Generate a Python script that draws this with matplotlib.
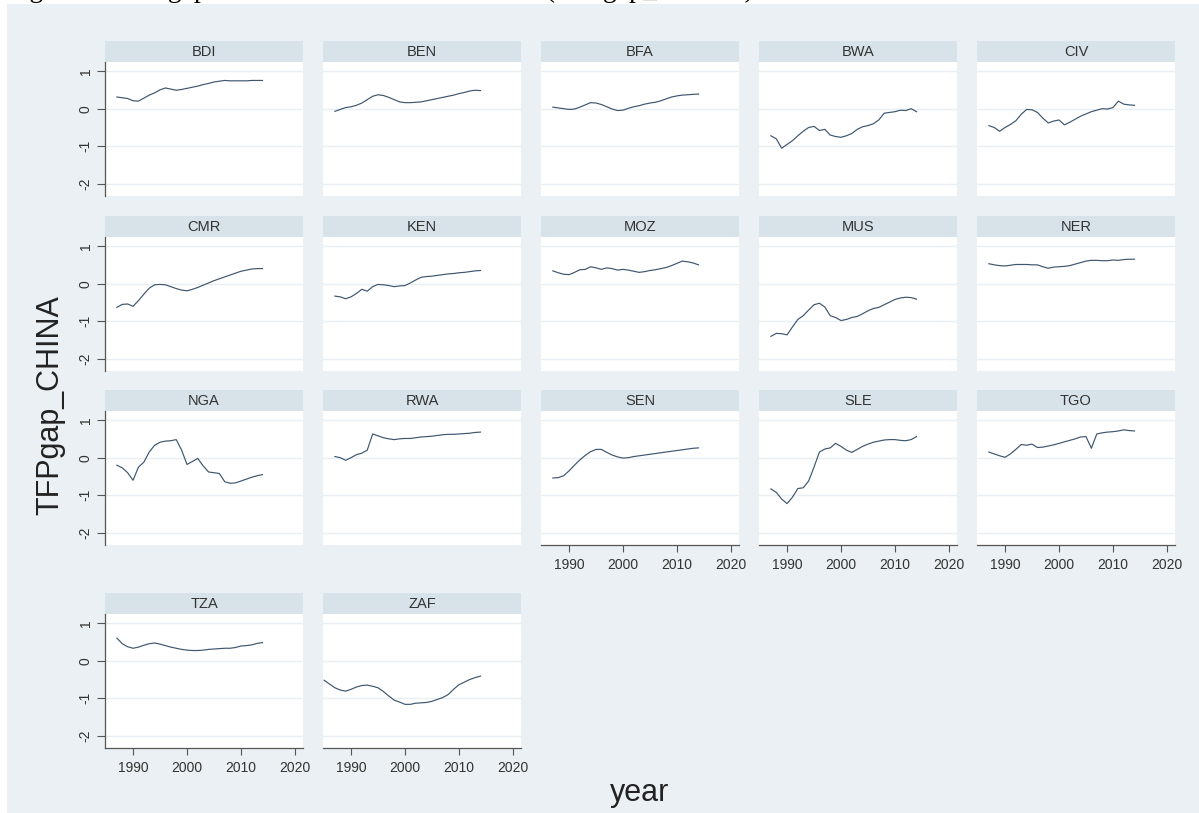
import matplotlib
matplotlib.use('Agg')
import matplotlib.pyplot as plt

# panel order (Stata by-graph, 5 columns)
countries = ['BDI', 'BEN', 'BFA', 'BWA', 'CIV',
             'CMR', 'KEN', 'MOZ', 'MUS', 'NER',
             'NGA', 'RWA', 'SEN', 'SLE', 'TGO',
             'TZA', 'ZAF']

years = list(range(1987, 2015))
years_zaf = list(range(1985, 2015))

# TFPgap_CHINA values
bdi = [0.31, 0.29, 0.27, 0.21, 0.20, 0.28, 0.36, 0.42, 0.50, 0.55, 0.52, 0.49, 0.51, 0.54,
       0.57, 0.60, 0.64, 0.67, 0.71, 0.73, 0.75, 0.74, 0.74, 0.74, 0.74, 0.75, 0.75, 0.75]
ben = [-0.07, -0.02, 0.03, 0.05, 0.09, 0.15, 0.24, 0.33, 0.37, 0.35, 0.30, 0.24, 0.18, 0.16,
       0.16, 0.17, 0.18, 0.21, 0.24, 0.27, 0.30, 0.33, 0.36, 0.40, 0.43, 0.47, 0.49, 0.48]
bfa = [0.04, 0.02, 0.00, -0.02, -0.01, 0.04, 0.10, 0.16, 0.15, 0.11, 0.05, -0.01, -0.05, -0.04,
       0.01, 0.05, 0.08, 0.12, 0.15, 0.17, 0.21, 0.26, 0.31, 0.34, 0.36, 0.37, 0.38, 0.39]
bwa = [-0.72, -0.80, -1.05, -0.95, -0.85, -0.72, -0.60, -0.50, -0.47, -0.58, -0.55, -0.70, -0.74, -0.76,
       -0.72, -0.66, -0.55, -0.48, -0.45, -0.40, -0.30, -0.12, -0.10, -0.08, -0.04, -0.05, 0.00, -0.08]
civ = [-0.45, -0.50, -0.60, -0.50, -0.42, -0.32, -0.15, -0.02, -0.03, -0.10, -0.25, -0.38, -0.33, -0.30,
       -0.43, -0.36, -0.28, -0.20, -0.14, -0.08, -0.04, 0.00, -0.01, 0.03, 0.20, 0.12, 0.10, 0.09]
cmr = [-0.63, -0.55, -0.54, -0.60, -0.45, -0.28, -0.12, -0.03, -0.02, -0.03, -0.08, -0.13, -0.17, -0.19,
       -0.15, -0.10, -0.04, 0.02, 0.08, 0.13, 0.18, 0.23, 0.28, 0.33, 0.36, 0.39, 0.40, 0.40]
ken = [-0.33, -0.35, -0.40, -0.35, -0.26, -0.15, -0.20, -0.08, -0.02, -0.03, -0.05, -0.08, -0.06, -0.05,
       0.02, 0.10, 0.17, 0.19, 0.20, 0.22, 0.24, 0.26, 0.27, 0.29, 0.30, 0.32, 0.34, 0.35]
moz = [0.34, 0.29, 0.25, 0.24, 0.30, 0.37, 0.38, 0.45, 0.42, 0.38, 0.42, 0.40, 0.36, 0.38,
       0.36, 0.33, 0.30, 0.32, 0.35, 0.37, 0.40, 0.43, 0.48, 0.54, 0.60, 0.58, 0.55, 0.50]
mus = [-1.40, -1.32, -1.33, -1.36, -1.15, -0.95, -0.85, -0.70, -0.56, -0.52, -0.62, -0.85, -0.90, -0.98,
       -0.95, -0.90, -0.87, -0.80, -0.72, -0.66, -0.63, -0.56, -0.49, -0.42, -0.38, -0.36, -0.37, -0.41]
ner = [0.53, 0.50, 0.48, 0.47, 0.49, 0.51, 0.51, 0.51, 0.50, 0.50, 0.45, 0.41, 0.44, 0.45,
       0.46, 0.48, 0.52, 0.56, 0.60, 0.62, 0.62, 0.61, 0.61, 0.63, 0.62, 0.64, 0.65, 0.65]
nga = [-0.20, -0.27, -0.40, -0.60, -0.25, -0.12, 0.15, 0.33, 0.41, 0.44, 0.45, 0.48, 0.20, -0.18,
       -0.10, -0.02, -0.22, -0.38, -0.40, -0.42, -0.64, -0.68, -0.67, -0.62, -0.57, -0.52, -0.48, -0.45]
rwa = [0.03, 0.00, -0.07, 0.00, 0.08, 0.12, 0.20, 0.63, 0.58, 0.53, 0.50, 0.48, 0.50, 0.51,
       0.51, 0.53, 0.55, 0.56, 0.57, 0.59, 0.61, 0.62, 0.62, 0.63, 0.64, 0.65, 0.67, 0.68]
sen = [-0.54, -0.53, -0.48, -0.35, -0.20, -0.06, 0.06, 0.16, 0.22, 0.22, 0.14, 0.07, 0.02, -0.01,
       0.00, 0.03, 0.05, 0.07, 0.09, 0.11, 0.13, 0.15, 0.17, 0.19, 0.21, 0.23, 0.25, 0.26]
sle = [-0.83, -0.92, -1.10, -1.22, -1.05, -0.82, -0.80, -0.62, -0.25, 0.15, 0.23, 0.26, 0.38, 0.30,
       0.20, 0.14, 0.22, 0.30, 0.36, 0.41, 0.44, 0.47, 0.48, 0.48, 0.46, 0.45, 0.48, 0.56]
tgo = [0.15, 0.10, 0.05, 0.01, 0.10, 0.22, 0.35, 0.33, 0.36, 0.27, 0.28, 0.31, 0.34, 0.38,
       0.42, 0.46, 0.50, 0.55, 0.56, 0.25, 0.63, 0.66, 0.68, 0.69, 0.71, 0.74, 0.72, 0.71]
tza = [0.60, 0.45, 0.37, 0.33, 0.36, 0.41, 0.45, 0.47, 0.44, 0.40, 0.36, 0.33, 0.30, 0.28,
       0.27, 0.27, 0.28, 0.30, 0.31, 0.32, 0.33, 0.33, 0.35, 0.39, 0.40, 0.42, 0.46, 0.48]
zaf = [-0.52, -0.62, -0.72, -0.78, -0.81, -0.76, -0.70, -0.66, -0.65, -0.68, -0.72, -0.82, -0.94, -1.05,
       -1.10, -1.16, -1.16, -1.13, -1.12, -1.11, -1.08, -1.03, -0.98, -0.90, -0.76, -0.64, -0.57, -0.50,
       -0.45, -0.41]

series = {'BDI': bdi, 'BEN': ben, 'BFA': bfa, 'BWA': bwa, 'CIV': civ,
          'CMR': cmr, 'KEN': ken, 'MOZ': moz, 'MUS': mus, 'NER': ner,
          'NGA': nga, 'RWA': rwa, 'SEN': sen, 'SLE': sle, 'TGO': tgo,
          'TZA': tza, 'ZAF': zaf}

ytick_vals = [-2, -1, 0, 1]
xtick_vals = [1990, 2000, 2010, 2020]

# stata s2color look
bg_col = '#eaf0f3'
strip_col = '#d7e3e9'
grid_col = '#e9eff2'
line_col = '#3d566e'
txt_col = '#333333'

W, H = 1199, 813
col_x = [105, 323, 541, 759, 977]
row_top = [41, 216, 390, 593]
panel_w = 198
strip_h = 21
plot_h = 134

plt.rcParams['font.family'] = ['Liberation Sans', 'DejaVu Sans']
plt.rcParams['axes.unicode_minus'] = False  # stata prints a plain hyphen


def fig_rect(x, y, w, h):
    # pixel box (top-left origin) -> figure fraction
    return [x / W, 1 - (y + h) / H, w / W, h / H]


fig = plt.figure(figsize=(W / 100, H / 100), dpi=100, facecolor='white')

# grey graph region (picture is cropped at the top and left), drawn behind all panels
bg = fig.add_axes(fig_rect(7, 4, W - 7, H - 4), zorder=-10)
bg.set_facecolor(bg_col)
bg.set_xticks([])
bg.set_yticks([])
for s in bg.spines.values():
    s.set_visible(False)

# caption above the graph, only its lower edge shows
fig.text(6 / W, 1 + 3 / H, 'Figure 3: TFP gap of countries relative to China (TFPgap_CHINA)',
         family='Liberation Serif', fontsize=20, va='baseline', ha='left', color='black')

for i, c in enumerate(countries):
    r, col = divmod(i, 5)
    x0 = col_x[col]
    y0 = row_top[r]
    has_x = (r == 2 and col >= 2) or r == 3

    # strip with country code
    sax = fig.add_axes(fig_rect(x0, y0, panel_w, strip_h))
    sax.set_facecolor(strip_col)
    sax.set_xticks([])
    sax.set_yticks([])
    for s in sax.spines.values():
        s.set_visible(False)
    sax.text(0.5, 0.5, c, ha='center', va='center', fontsize=10.5, color=txt_col,
             transform=sax.transAxes)

    ax = fig.add_axes(fig_rect(x0, y0 + strip_h, panel_w, plot_h))
    ax.set_facecolor('white')
    yrs = years_zaf if c == 'ZAF' else years
    ax.plot(yrs, series[c], color=line_col, lw=0.85, zorder=3)

    ax.set_xlim(1984.8, 2021.5)
    ax.set_ylim(-2.32, 1.24)
    ax.set_yticks(ytick_vals)
    ax.set_xticks(xtick_vals)
    ax.grid(axis='y', color=grid_col, lw=1.0, zorder=0)
    ax.set_axisbelow(True)

    for s in ax.spines.values():
        s.set_visible(False)
        s.set_color('#555555')
        s.set_linewidth(0.9)

    if col == 0:
        ax.spines['left'].set_visible(True)
        ax.tick_params(axis='y', length=6, width=0.8, color='#555555', pad=3,
                       labelsize=10, labelcolor=txt_col, labelrotation=90)
        for lbl in ax.get_yticklabels():
            lbl.set_va('center')
    else:
        ax.tick_params(axis='y', length=0, labelleft=False)

    if has_x:
        ax.spines['bottom'].set_visible(True)
        ax.tick_params(axis='x', length=5, width=0.8, color='#555555', pad=4,
                       labelsize=10, labelcolor=txt_col)
    else:
        ax.tick_params(axis='x', length=0, labelbottom=False)

fig.text(50 / W, 1 - 405 / H, 'TFPgap_CHINA', rotation=90, fontsize=22,
         ha='center', va='center', color='#222222')
fig.text(640 / W, 1 - 793 / H, 'year', fontsize=22, ha='center', va='center',
         color='#222222')

fig.savefig('out.png', dpi=100, facecolor='white')
